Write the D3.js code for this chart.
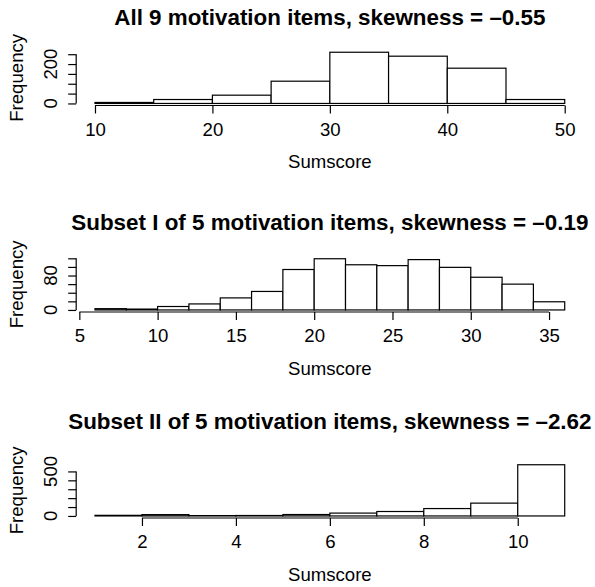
<!DOCTYPE html>
<html>
<head>
<meta charset="utf-8">
<script src="https://cdn.jsdelivr.net/npm/d3@7"></script>
<style>
  html, body { margin: 0; padding: 0; background: #fff; }
  svg { display: block; }
  text { font-family: "Liberation Sans", Arial, Helvetica, sans-serif; fill: #000; }
</style>
</head>
<body>
<svg id="chart" width="595" height="587"></svg>
<script>
// Histogram bin edges and counts for each item set
const breaksAll = [10, 15, 20, 25, 30, 35, 40, 45, 50];
const countsAll = [5, 20, 42, 113, 260, 240, 179, 20];

const breaksSubI = [6, 8, 10, 12, 14, 16, 18, 20, 22, 24, 26, 28, 30, 32, 34, 36];
const countsSubI = [3, 2, 8, 14, 28, 43, 94, 119, 105, 103, 117, 99, 76, 60, 19];

const breaksSubII = [1, 2, 3, 4, 5, 6, 7, 8, 9, 10, 11];
const countsSubII = [7, 15, 4, 5, 16, 32, 50, 83, 144, 575];

// Titles
const titles = [
  "All 9 motivation items, skewness = \u20130.55",
  "Subset I of 5 motivation items, skewness = \u20130.19",
  "Subset II of 5 motivation items, skewness = \u20132.62"
];

// Axis ticks and the tick labels that are printed
const xTicksAll = [10, 20, 30, 40, 50];
const xTicksSubI = [5, 10, 15, 20, 25, 30, 35];
const xTicksSubII = [2, 4, 6, 8, 10];
const yTicksAll = [0, 50, 100, 150, 200, 250];
const yTicksSubI = [0, 20, 40, 60, 80, 100, 120];
const yTicksSubII = [0, 100, 200, 300, 400, 500];
const yLabelsAll = [0, 200];
const yLabelsSubI = [0, 80];
const yLabelsSubII = [0, 500];

const panels = [
  { breaks: breaksAll, counts: countsAll, title: titles[0], xTicks: xTicksAll, yTicks: yTicksAll, yLabels: yLabelsAll },
  { breaks: breaksSubI, counts: countsSubI, title: titles[1], xTicks: xTicksSubI, yTicks: yTicksSubI, yLabels: yLabelsSubI },
  { breaks: breaksSubII, counts: countsSubII, title: titles[2], xTicks: xTicksSubII, yTicks: yTicksSubII, yLabels: yLabelsSubII }
];

// Layout of the three stacked plot regions
const plotLeft = 76.2, plotRight = 583.5;
const plotTops = [50.2, 256.7, 462.7];
const plotHeight = 55.3;
const titleBaselines = [24.5, 230, 429];
const tickLen = 8;
const axisFont = 18.6;
const titleFont = 22.4;

const svg = d3.select("#chart");

panels.forEach((p, i) => {
  const b0 = p.breaks[0], b1 = p.breaks[p.breaks.length - 1];
  const padX = 0.04 * (b1 - b0);
  const x = d3.scaleLinear().domain([b0 - padX, b1 + padX]).range([plotLeft, plotRight]);
  const maxC = d3.max(p.counts);
  const top = plotTops[i], bottom = top + plotHeight;
  const y = d3.scaleLinear().domain([-0.04 * maxC, 1.04 * maxC]).range([bottom, top]);
  const cx = (plotLeft + plotRight) / 2;

  const g = svg.append("g");

  // bars
  const bins = p.counts.map((c, j) => ({ x0: p.breaks[j], x1: p.breaks[j + 1], c }));
  g.selectAll("rect.bar").data(bins).join("rect")
    .attr("class", "bar")
    .attr("x", d => x(d.x0))
    .attr("width", d => x(d.x1) - x(d.x0))
    .attr("y", d => y(d.c))
    .attr("height", d => y(0) - y(d.c))
    .attr("fill", "#fff")
    .attr("stroke", "#000")
    .attr("stroke-width", 1.2);

  // x axis (line spans first to last tick)
  const xAxis = d3.axisBottom(x).tickValues(p.xTicks).tickSize(tickLen).tickPadding(4)
    .tickFormat(d3.format("d"));
  const gx = g.append("g").attr("transform", `translate(0,${bottom})`).call(xAxis);
  gx.select(".domain").remove();
  gx.append("line")
    .attr("x1", x(p.xTicks[0])).attr("x2", x(p.xTicks[p.xTicks.length - 1]))
    .attr("y1", 0).attr("y2", 0).attr("stroke", "#000").attr("stroke-width", 1.2);
  gx.selectAll(".tick line").attr("stroke", "#000").attr("stroke-width", 1.2);
  gx.selectAll(".tick text").remove();
  gx.selectAll(".tick").append("text")
    .attr("y", 30).attr("text-anchor", "middle")
    .style("font-size", axisFont + "px")
    .text(d => d);

  // y axis
  const yAxis = d3.axisLeft(y).tickValues(p.yTicks).tickSize(tickLen).tickFormat("");
  const gy = g.append("g").attr("transform", `translate(${plotLeft},0)`).call(yAxis);
  gy.select(".domain").remove();
  gy.append("line")
    .attr("x1", 0).attr("x2", 0)
    .attr("y1", y(p.yTicks[0])).attr("y2", y(p.yTicks[p.yTicks.length - 1]))
    .attr("stroke", "#000").attr("stroke-width", 1.2);
  gy.selectAll(".tick line").attr("stroke", "#000").attr("stroke-width", 1.2);
  g.selectAll("text.ylab").data(p.yLabels).join("text")
    .attr("class", "ylab")
    .attr("transform", d => `translate(${plotLeft - 19},${y(d)}) rotate(-90)`)
    .attr("text-anchor", "middle")
    .style("font-size", axisFont + "px")
    .text(d => d);

  // axis titles
  g.append("text")
    .attr("transform", `translate(23,${(top + bottom) / 2}) rotate(-90)`)
    .attr("text-anchor", "middle")
    .style("font-size", axisFont + "px")
    .text("Frequency");
  g.append("text")
    .attr("x", cx).attr("y", bottom + 62.5)
    .attr("text-anchor", "middle")
    .style("font-size", axisFont + "px")
    .text("Sumscore");

  // main title
  g.append("text")
    .attr("x", cx).attr("y", titleBaselines[i])
    .attr("text-anchor", "middle")
    .style("font-size", titleFont + "px")
    .style("font-weight", "bold")
    .text(p.title);
});
</script>
</body>
</html>
